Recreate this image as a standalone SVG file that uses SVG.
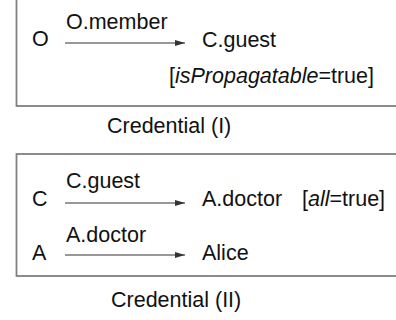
<svg xmlns="http://www.w3.org/2000/svg" width="396" height="320" viewBox="0 0 396 320">
<style>
text{font-family:"Liberation Sans",Arial,sans-serif;font-size:21.5px;fill:#111}
.box{fill:#fff;stroke:#808080;stroke-width:1.8}
.arr{stroke:#333;stroke-width:1.2;fill:none;marker-end:url(#ah)}
</style>
<defs>
<marker id="ah" viewBox="0 0 10 6" refX="10" refY="3" markerWidth="10" markerHeight="6" markerUnits="userSpaceOnUse" orient="auto">
<path d="M0,0 L10,3 L0,6 Z" fill="#333"/>
</marker>
</defs>
<rect width="396" height="320" fill="#fff"/>
<g id="credential1">
<rect class="box" x="16.5" y="-10" width="400" height="116"/>
<text x="107" y="133">Credential (I)</text>
</g>
<g id="credential2">
<rect class="box" x="16.5" y="154" width="400" height="122"/>
<text x="111" y="307">Credential (II)</text>
</g>
<g id="nodeO"><text x="32" y="46">O</text></g>
<g id="nodeCguest"><text x="202" y="47">C.guest</text>
<text x="169" y="83">[<tspan font-style="italic">isPropagatable</tspan>=true]</text></g>
<g id="nodeC"><text x="32" y="206">C</text></g>
<g id="nodeAdoctor"><text x="202" y="206">A.doctor</text>
<text x="302" y="206">[<tspan font-style="italic">all</tspan>=true]</text></g>
<g id="nodeA"><text x="32" y="260">A</text></g>
<g id="nodeAlice"><text x="202" y="260">Alice</text></g>
<g id="connectors">
<line class="arr" x1="65" y1="43" x2="185" y2="43"/>
<text x="66" y="29">O.member</text>
<line class="arr" x1="65" y1="203" x2="185" y2="203"/>
<text x="66" y="188">C.guest</text>
<line class="arr" x1="65" y1="255" x2="185" y2="255"/>
<text x="66" y="242">A.doctor</text>
</g>
</svg>
